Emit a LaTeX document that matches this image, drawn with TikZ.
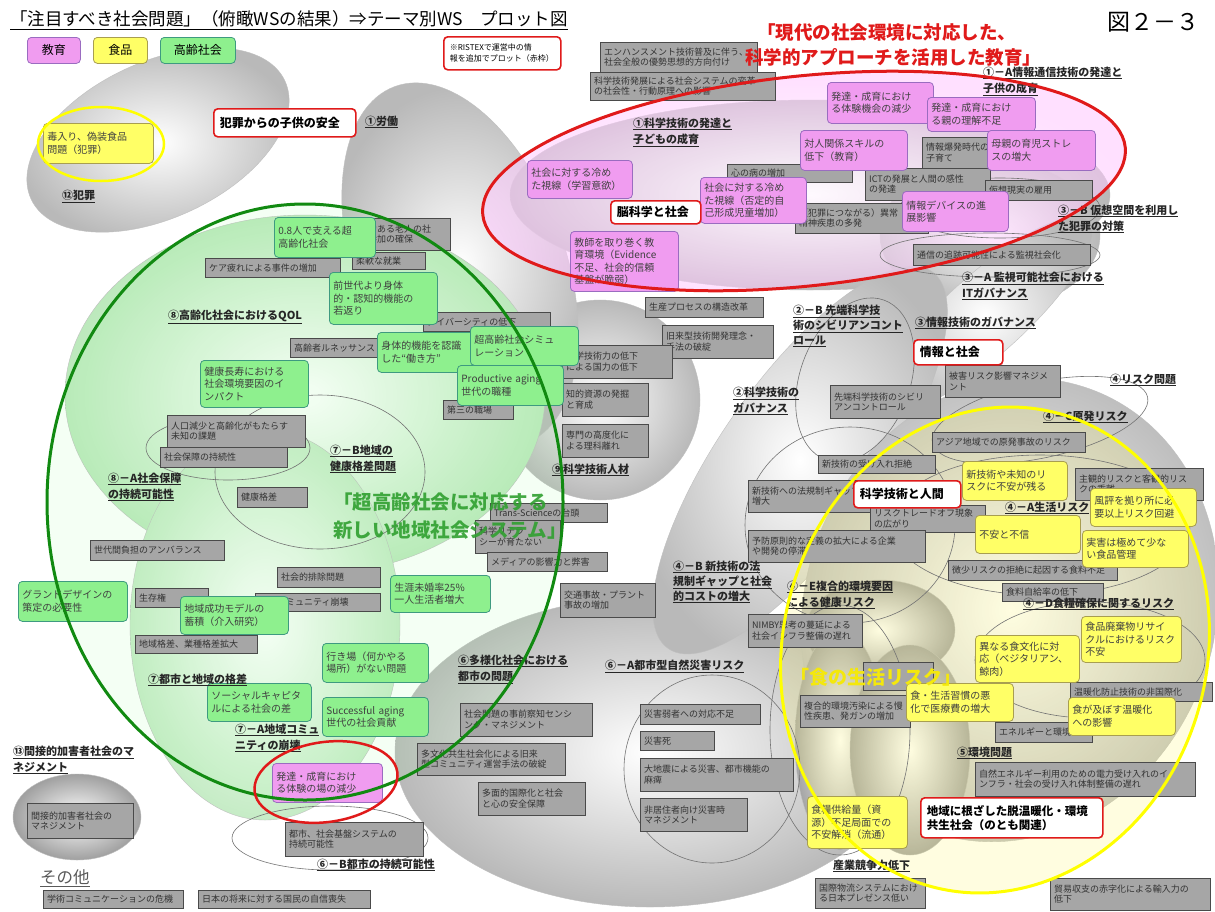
\documentclass[tikz,border=0pt]{standalone}
\usepackage{fontspec}
\setmainfont{Noto Sans CJK JP}
\definecolor{gfill}{HTML}{A6A6A6}
\definecolor{gline}{HTML}{4A4A4A}
\definecolor{pfill}{HTML}{F09CF0}
\definecolor{pline}{HTML}{9A6CC0}
\definecolor{lfill}{HTML}{8EF08E}
\definecolor{lline}{HTML}{3E9A80}
\definecolor{yfill}{HTML}{FFFF66}
\definecolor{yline}{HTML}{A89E50}
\definecolor{redline}{HTML}{E01A1A}
\definecolor{greenline}{HTML}{118A11}
\definecolor{yellowline}{HTML}{FFFF00}
\definecolor{greentext}{HTML}{30A030}
\tikzset{
  gbox/.style={draw=gline, fill=gfill, text=black!80, anchor=north west, align=left,
    inner xsep=4pt, inner ysep=1pt, minimum height=18pt, font=\fontsize{9}{10.5}\selectfont},
  pbox/.style={draw=pline, fill=pfill, rounded corners=4pt, line width=0.8pt, text=black!75,
    anchor=north west, align=left, inner xsep=4pt, inner ysep=1pt, font=\fontsize{10}{12.5}\selectfont},
  lbox/.style={pbox, draw=lline, fill=lfill},
  ybox/.style={pbox, draw=yline, fill=yfill},
  rbox/.style={draw=redline, fill=white, rounded corners=4pt, line width=1.6pt, anchor=north west,
    align=left, inner xsep=6pt, inner ysep=1pt, font=\fontsize{12}{14}\selectfont\bfseries},
  lab/.style={anchor=west, inner sep=0pt, align=left, text=black!85,
    font=\fontsize{11}{16}\selectfont\bfseries},
  bubble/.style={draw=gray!50, shade, inner color=white, outer color=gray!55},
  thinring/.style={draw=black!55, line width=0.6pt},
  legend/.style={anchor=north west, rounded corners=4pt, line width=0.8pt, align=center,
    minimum height=26pt, inner sep=0pt, font=\fontsize{12}{14}\selectfont}
}
\begin{document}
\begin{tikzpicture}[x=1pt, y=-1pt]
\useasboundingbox (0,0) rectangle (1215,911);
\fill[white] (0,0) rectangle (1215,911);

% grey theme ellipses
\shade[bubble] (650,752) ellipse (255 and 155);
\shade[bubble] (600,400) ellipse (100 and 100);
\shade[bubble, rotate around={20:(460,265)}] (460,265) ellipse (105 and 190);
\shade[bubble, outer color=gray!50!green!35] (305,395) ellipse (240 and 180);
\shade[bubble, outer color=gray!50!green!30] (265,625) ellipse (135 and 195);
\shade[bubble] (810,195) ellipse (300 and 95);
\shade[bubble] (990,235) ellipse (110 and 75);
\shade[bubble, rotate around={42:(985,315)}] (985,315) ellipse (140 and 40);
\shade[bubble, rotate around={55:(800,460)}] (800,460) ellipse (230 and 80);
\shade[bubble, rotate around={-20:(1010,610)}] (1010,610) ellipse (205 and 235);
\shade[bubble, outer color=gray!70] (880,630) ellipse (75 and 50);
\shade[bubble, outer color=gray!70] (840,740) ellipse (45 and 110);
\shade[bubble, outer color=gray!70] (910,750) ellipse (60 and 105);
\shade[bubble, rotate around={25:(158,140)}] (158,140) ellipse (140 and 78);
\shade[bubble, outer color=gray!75] (77,817) ellipse (64 and 43);

% tints of the three themes
\shade[inner color=magenta!3, outer color=magenta!22, opacity=0.55, rotate around={6:(804,181)}]
  (804,181) ellipse (323 and 105);
\fill[green!40!white, opacity=0.1] (305,502) ellipse (258 and 298);
\fill[yellow!60, opacity=0.2, rotate around={-15:(995,650)}] (995,650) ellipse (212 and 245);

% sub-theme rings
\draw[thinring] (228,448) ellipse (82 and 32);
\draw[thinring] (320,472) ellipse (105 and 77);
\draw[thinring] (712,769) ellipse (88 and 94);
\draw[thinring] (330,838) ellipse (98 and 32);
\draw[thinring] (850,525) ellipse (105 and 98);
\draw[thinring, rotate around={-20:(855,380)}] (855,380) ellipse (55 and 85);
\draw[thinring, rotate around={12:(1040,420)}] (1040,420) ellipse (110 and 38);
\draw[thinring] (1090,660) ellipse (115 and 58);
\draw[thinring] (840,730) ellipse (70 and 125);
\draw[thinring] (1000,208) ellipse (100 and 30);
\draw[thinring] (990,255) ellipse (110 and 22);
\draw[thinring] (1040,525) ellipse (150 and 70);

% title
\node[anchor=west, inner sep=0pt, font=\fontsize{17.5}{20}\selectfont] (title) at (10,20)
  {\underline{「注目すべき社会問題」（俯瞰WSの結果）⇒テーマ別WS　プロット図}};
\node[anchor=east, inner sep=0pt, font=\fontsize{23}{26}\selectfont] (fig) at (1200,22) {図２－３};

% legend
\node[legend, draw=pline, fill=pfill, minimum width=53pt] (leg1) at (27,37) {教育};
\node[legend, draw=yline, fill=yfill, minimum width=54pt] (leg2) at (93,37) {食品};
\node[legend, draw=lline, fill=lfill, minimum width=75pt] (leg3) at (160,37) {高齢社会};

% grey boxes
\node[gbox, text width=177pt, minimum height=28pt] (g2) at (590,72) {科学技術発展による社会システムの変革\\の社会性・行動原理への影響};
\node[gbox, text width=149pt, minimum height=30pt] (g1) at (600,42) {エンハンスメント技術普及に伴う、\\社会全般の優勢思想的方向付け};
\node[gbox, text width=117pt] (g3) at (727,164) {心の病の増加};
\node[gbox, text width=62pt, minimum height=31pt] (g4) at (922,137) {情報爆発時代の\\子育て};
\node[gbox, text width=117pt, minimum height=32pt] (g5) at (865,168) {ICTの発展と人間の感性\\の発達};
\node[gbox, text width=125pt, minimum height=30pt] (g6) at (795,203) {（犯罪につながる）異常\\精神疾患の多発};
\node[gbox, text width=99pt, minimum height=20pt] (g7) at (985,180) {仮想現実の雇用};
\node[gbox, text width=169pt, minimum height=21pt] (g8) at (913,244) {通信の追跡可能性による監視社会化};
\node[gbox, text width=110pt, minimum height=20pt] (g9) at (645,297) {生産プロセスの構造改革};
\node[gbox, text width=103pt, minimum height=33pt] (g10) at (662,325) {旧来型技術開発理念・\\手法の破綻};
\node[gbox, text width=102pt, minimum height=33pt] (g11) at (562,345) {科学技術力の低下\\による国力の低下};
\node[gbox, text width=78pt, minimum height=33pt] (g12) at (562,383) {知的資源の発掘\\と育成};
\node[gbox, text width=78pt, minimum height=33pt] (g13) at (562,424) {専門の高度化に\\よる理科離れ};
\node[gbox, text width=102pt, minimum height=33pt] (g14) at (830,385) {先端科学技術のシビリ\\アンコントロール};
\node[gbox, text width=107pt, minimum height=32pt] (g15) at (945,365) {被害リスク影響マネジメ\\ント};
\node[gbox, text width=145pt, minimum height=20pt] (g16) at (932,432) {アジア地域での原発事故のリスク};
\node[gbox, text width=109pt] (g17) at (818,455) {新技術の受け入れ拒絶};
\node[gbox, text width=120pt, minimum height=32pt] (g18) at (1075,468) {主観的リスクと客観的リス\\クの乖離};
\node[gbox, text width=114pt, minimum height=32pt] (g19) at (748,480) {新技術への法規制ギャップの\\増大};
\node[gbox, text width=107pt, minimum height=27pt] (g20) at (870,505) {リスクトレードオフ現象\\の広がり};
\node[gbox, text width=169pt, minimum height=32pt] (g21) at (748,530) {予防原則的な定義の拡大による企業\\や開発の停滞};
\node[gbox, text width=161pt, minimum height=20pt] (g22) at (948,560) {微少リスクの拒絶に起因する食料不足};
\node[gbox, text width=93pt] (g23) at (1002,583) {食料自給率の低下};
\node[gbox, text width=106pt, minimum height=33pt] (g24) at (748,614) {NIMBY思考の蔓延による\\社会インフラ整備の遅れ};
\node[gbox, text width=62pt, minimum height=28pt] (g25) at (863,662) {};
\node[gbox, text width=134pt, minimum height=19pt] (g26) at (1070,682) {温暖化防止技術の非国際化};
\node[gbox, text width=102pt, minimum height=32pt] (g27) at (800,695) {複合的環境汚染による慢\\性疾患、発ガンの増加};
\node[gbox, text width=89pt, minimum height=20pt] (g28) at (995,722) {エネルギーと環境};
\node[gbox, text width=212pt, minimum height=34pt] (g29) at (975,762) {自然エネルギー利用のための電力受け入れのイ\\ンフラ・社会の受け入れ体制整備の遅れ};
\node[gbox, text width=102pt, minimum height=30pt] (g30) at (815,878) {国際物流システムにおけ\\る日本プレゼンス低い};
\node[gbox, text width=152pt, minimum height=32pt] (g31) at (1050,878) {貿易収支の赤字化による輸入力の\\低下};
\node[gbox, text width=112pt, minimum height=20pt] (g32) at (640,704) {災害弱者への対応不足};
\node[gbox, text width=66pt, minimum height=19pt] (g33) at (640,731) {災害死};
\node[gbox, text width=145pt, minimum height=33pt] (g34) at (640,758) {大地震による災害、都市機能の\\麻痺};
\node[gbox, text width=99pt, minimum height=33pt] (g35) at (640,798) {非居住者向け災害時\\マネジメント};
\node[gbox, text width=124pt, minimum height=33pt] (g36) at (460,703) {社会問題の事前察知センシ\\ング・マネジメント};
\node[gbox, text width=140pt, minimum height=32pt] (g37) at (417,743) {多文化共生社会化による旧来\\型コミュニティ運営手法の破綻};
\node[gbox, text width=99pt, minimum height=33pt] (g38) at (478,782) {多面的国際化と社会\\と心の安全保障};
\node[gbox, text width=130pt, minimum height=34pt] (g39) at (285,822) {都市、社会基盤システムの\\持続可能性};
\node[gbox, text width=87pt, minimum height=34pt] (g40) at (560,583) {交通事故・プラント\\事故の増加};
\node[gbox, text width=109pt, minimum height=19pt] (g43) at (490,503) {Trans-Scienceの台頭};
\node[gbox, text width=77pt, minimum height=33pt] (g42) at (475,520) {科学リテラ\\シーが育たない};
\node[gbox, text width=112pt, minimum height=19pt] (g41) at (487,552) {メディアの影響力と弊害};
\node[gbox, text width=62pt, minimum height=19pt] (g44) at (443,400) {第三の職場};
\node[gbox, text width=119pt, minimum height=19pt] (g45) at (423,312) {ダイバーシティの低下};
\node[gbox, text width=87pt, minimum height=19pt] (g46) at (290,338) {高齢者ルネッサンス};
\node[gbox, text width=87pt, minimum height=32pt] (g47) at (355,218) {能力ある老人の社\\会参加の確保};
\node[gbox, text width=65pt, minimum height=17pt] (g48) at (352,252) {柔軟な就業};
\node[gbox, text width=127pt, minimum height=19pt] (g49) at (205,258) {ケア疲れによる事件の増加};
\node[gbox, text width=62pt, minimum height=20pt] (g50) at (237,487) {健康格差};
\node[gbox, text width=130pt, minimum height=32pt] (g51) at (167,415) {人口減少と高齢化がもたらす\\未知の課題};
\node[gbox, text width=119pt, minimum height=20pt] (g52) at (160,447) {社会保障の持続性};
\node[gbox, text width=126pt, minimum height=20pt] (g53) at (90,540) {世代間負担のアンバランス};
\node[gbox, text width=95pt, minimum height=20pt] (g54) at (277,567) {社会的排除問題};
\node[gbox, text width=65pt, minimum height=19pt] (g55) at (135,588) {生存権};
\node[gbox, text width=117pt] (g56) at (255,593) {地方コミュニティ崩壊};
\node[gbox, text width=114pt] (g57) at (135,635) {地域格差、業種格差拡大};
\node[gbox, text width=98pt, minimum height=35pt] (g58) at (27,803) {間接的加害者社会の\\マネジメント};
\node[gbox, text width=132pt] (g59) at (43,890) {学術コミュニケーションの危機};
\node[gbox, text width=164pt] (g60) at (198,890) {日本の将来に対する国民の自信喪失};

% education boxes
\node[pbox, text width=98pt, minimum height=41pt] (p1) at (827,82) {発達・成育におけ\\る体験機会の減少};
\node[pbox, text width=100pt, minimum height=34pt] (p2) at (927,97) {発達・成育におけ\\る親の理解不足};
\node[pbox, text width=99pt, minimum height=40pt] (p3) at (800,130) {対人関係スキルの\\低下（教育）};
\node[pbox, text width=100pt, minimum height=40pt] (p4) at (987,130) {母親の育児ストレ\\スの増大};
\node[pbox, text width=97pt, minimum height=38pt] (p5) at (527,160) {社会に対する冷め\\た視線（学習意欲）};
\node[pbox, text width=98pt, minimum height=46pt] (p6) at (700,177) {社会に対する冷め\\た視線（否定的自\\己形成児童増加）};
\node[pbox, text width=98pt, minimum height=40pt] (p7) at (902,191) {情報デバイスの進\\展影響};
\node[pbox, text width=100pt, minimum height=60pt] (p8) at (570,231) {教師を取り巻く教\\育環境（Evidence\\不足、社会的信頼\\基盤が脆弱）};
\node[pbox, text width=102pt, minimum height=39pt] (p9) at (272,763) {発達・成育におけ\\る体験の場の減少};

% ageing society boxes
\node[lbox, text width=93pt, minimum height=40pt] (l1) at (274,217) {0.8人で支える超\\高齢化社会};
\node[lbox, text width=100pt, minimum height=52pt] (l2) at (329,272) {前世代より身体\\的・認知的機能の\\若返り};
\node[lbox, text width=95pt, minimum height=40pt] (l3) at (377,332) {身体的機能を認識\\した“働き方”};
\node[lbox, text width=98pt, minimum height=40pt] (l5) at (457,365) {Productive aging\\世代の職種};
\node[lbox, text width=100pt, minimum height=39pt] (l4) at (470,326) {超高齢社会シミュ\\レーション};
\node[lbox, text width=100pt, minimum height=47pt] (l6) at (200,360) {健康長寿における\\社会環境要因のイ\\ンパクト};
\node[lbox, text width=92pt, minimum height=37pt] (l7) at (390,575) {生涯未婚率25\%\\一人生活者増大};
\node[lbox, text width=101pt, minimum height=40pt] (l8) at (18,581) {グランドデザインの\\策定の必要性};
\node[lbox, text width=100pt, minimum height=38pt] (l9) at (180,596) {地域成功モデルの\\蓄積（介入研究）};
\node[lbox, text width=96pt, minimum height=38pt] (l10) at (207,683) {ソーシャルキャピタ\\ルによる社会の差};
\node[lbox, text width=98pt, minimum height=39pt] (l11) at (322,643) {行き場（何かやる\\場所）がない問題};
\node[lbox, text width=98pt, minimum height=39pt] (l12) at (322,697) {Successful aging\\世代の社会貢献};

% food boxes
\node[ybox, text width=102pt, minimum height=40pt] (f1) at (43,123) {毒入り、偽装食品\\問題（犯罪）};
\node[ybox, text width=97pt, minimum height=39pt] (f2) at (962,461) {新技術や未知のリ\\スクに不安が残る};
\node[ybox, text width=98pt, minimum height=38pt] (f3) at (1090,488) {風評を拠り所に必\\要以上リスク回避};
\node[ybox, text width=97pt, minimum height=38pt] (f4) at (975,515) {不安と不信};
\node[ybox, text width=98pt, minimum height=37pt] (f5) at (1082,530) {実害は極めて少な\\い食品管理};
\node[ybox, text width=92pt, minimum height=46pt] (f6) at (1081,616) {食品廃棄物リサイ\\クルにおけるリスク\\不安};
\node[ybox, text width=96pt, minimum height=47pt] (f7) at (975,635) {異なる食文化に対\\応（ベジタリアン、\\鯨肉）};
\node[ybox, text width=99pt, minimum height=38pt] (f8) at (906,683) {食・生活習慣の悪\\化で医療費の増大};
\node[ybox, text width=99pt, minimum height=38pt] (f9) at (1068,697) {食が及ぼす温暖化\\への影響};
\node[ybox, text width=92pt, minimum height=52pt] (f10) at (807,796) {食糧供給量（資\\源）不足局面での\\不安解消（流通）};

% RISTEX boxes
\node[rbox, text width=105pt, minimum height=33pt, font=\fontsize{8}{11}\selectfont] (r1) at (443,36) {※RISTEXで運営中の情\\報を追加でプロット（赤枠）};
\node[rbox, text width=130pt, minimum height=28pt] (r2) at (213,108) {犯罪からの子供の安全};
\node[rbox, text width=78pt, minimum height=23pt] (r3) at (610,200) {脳科学と社会};
\node[rbox, text width=77pt, minimum height=25pt] (r4) at (913,339) {情報と社会};
\node[rbox, text width=95pt, minimum height=27pt] (r5) at (853,480) {科学技術と人間};
\node[rbox, text width=170pt, minimum height=40pt, font=\fontsize{11.5}{14}\selectfont\bfseries] (r6) at (920,797) {地域に根ざした脱温暖化・環境\\共生社会（のとも関連）};

% theme labels
\node[lab] (t12) at (62,196) {\underline{⑫犯罪}};
\node[lab] (t1) at (365,122) {\underline{①労働}};
\node[lab] (t1x) at (633,132) {\underline{①科学技術の発達と}\\\underline{子どもの成育}};
\node[lab] (t1a) at (983,81) {\underline{①－A情報通信技術の発達と}\\\underline{子供の成育}};
\node[lab] (t3b) at (1058,219) {\underline{③－B 仮想空間を利用し}\\\underline{た犯罪の対策}};
\node[lab] (t3a) at (962,286) {\underline{③－A 監視可能社会における}\\\underline{ITガバナンス}};
\node[lab, font=\fontsize{11}{15}\selectfont\bfseries] (t2b) at (793,326) {\underline{②－B 先端科学技}\\\underline{術のシビリアンコント}\\\underline{ロール}};
\node[lab] (t3) at (915,323) {\underline{③情報技術のガバナンス}};
\node[lab] (t2) at (733,401) {\underline{②科学技術の}\\\underline{ガバナンス}};
\node[lab] (t9) at (552,470) {\underline{⑨科学技術人材}};
\node[lab] (t4) at (1110,380) {\underline{④リスク問題}};
\node[lab] (t4c) at (1043,417) {\underline{④－C原発リスク}};
\node[lab] (t4a) at (1005,508) {\underline{④－A生活リスク}};
\node[lab] (t4d) at (1023,604) {\underline{④－D食糧確保に関するリスク}};
\node[lab, font=\fontsize{11}{15}\selectfont\bfseries] (t4b) at (673,582) {\underline{④－B 新技術の法}\\\underline{規制ギャップと社会}\\\underline{的コストの増大}};
\node[lab] (t4e) at (787,595) {\underline{④－E複合的環境要因}\\\underline{による健康リスク}};
\node[lab] (t5) at (957,753) {\underline{⑤環境問題}};
\node[lab] (tind) at (833,866) {\underline{産業競争力低下}};
\node[lab] (t6a) at (605,666) {\underline{⑥－A都市型自然災害リスク}};
\node[lab] (t6) at (458,669) {\underline{⑥多様化社会における}\\\underline{都市の問題}};
\node[lab] (t6b) at (317,865) {\underline{⑥－B都市の持続可能性}};
\node[lab] (t7) at (148,680) {\underline{⑦都市と地域の格差}};
\node[lab] (t7a) at (235,738) {\underline{⑦－A地域コミュ}\\\underline{ニティの崩壊}};
\node[lab] (t13) at (13,760) {\underline{⑬間接的加害者社会のマ}\\\underline{ネジメント}};
\node[lab] (t8) at (168,317) {\underline{⑧高齢化社会におけるQOL}};
\node[lab] (t8a) at (108,487) {\underline{⑧－A社会保障}\\\underline{の持続可能性}};
\node[lab] (t7b) at (330,459) {\underline{⑦－B地域の}\\\underline{健康格差問題}};
\node[anchor=west, inner sep=0pt, text=black!65, font=\fontsize{16.5}{18}\selectfont] (other) at (40,878) {\underline{その他}};

% theme outlines
\draw[redline, line width=3pt, rotate around={6:(804,181)}] (804,181) ellipse (323 and 105);
\draw[greenline, line width=3pt] (305,502) ellipse (258 and 298);
\draw[yellowline, line width=3pt, rotate around={-15:(995,650)}] (995,650) ellipse (212 and 245);
\draw[yellowline, line width=2.5pt] (101,144) ellipse (63 and 37);
\draw[redline, line width=2.5pt, rotate around={8:(326,782)}] (326,782) ellipse (72 and 40);

% theme headings
\node[anchor=west, inner sep=0pt, text=redline, font=\fontsize{18.5}{20}\selectfont\bfseries] (head1) at (757,33) {「現代の社会環境に対応した、};
\node[anchor=west, inner sep=0pt, text=redline, font=\fontsize{18.5}{20}\selectfont\bfseries] (head2) at (745,57) {科学的アプローチを活用した教育」};
\node[anchor=west, inner sep=0pt, text=greentext, text opacity=0.9, font=\fontsize{19.5}{22}\selectfont\bfseries] (head3) at (333,502) {「超高齢社会に対応する};
\node[anchor=west, inner sep=0pt, text=greentext, text opacity=0.9, font=\fontsize{19.5}{22}\selectfont\bfseries] (head4) at (333,530) {新しい地域社会システム」};
\node[anchor=west, inner sep=0pt, text=yellow!95!black, font=\fontsize{19}{22}\selectfont\bfseries] (head5) at (790,677) {「食の生活リスク」};
\end{tikzpicture}
\end{document}
